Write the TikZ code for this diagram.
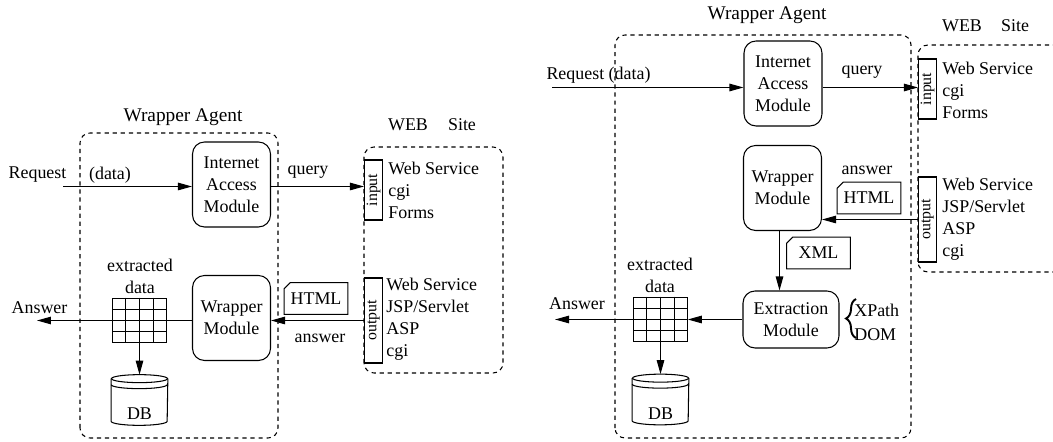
\documentclass[tikz,border=0pt]{standalone}
\usepackage{fontspec}
\setmainfont{Liberation Serif}
\usetikzlibrary{arrows.meta,shapes,positioning,calc,decorations.pathreplacing}

\tikzset{
  txt/.style={font=\fontsize{10.2}{12.5}\selectfont, inner sep=0pt},
  ttl/.style={font=\fontsize{11}{13}\selectfont, inner sep=0pt},
  module/.style={draw, line width=0.6pt, rounded corners=0.24cm, align=center, txt, inner sep=1pt, minimum width=1.56cm, minimum height=1.7cm},
  frame/.style={line width=0.6pt, dash pattern=on 2.4pt off 2.2pt, rounded corners=0.2cm},
  port/.style={draw, line width=0.6pt, minimum width=0.36cm, inner sep=0pt, font=\fontsize{9}{10}\selectfont},
  doc/.style={txt, minimum width=1.26cm, minimum height=0.62cm},
  table/.style={draw, line width=0.6pt, inner sep=0pt, minimum width=1.07cm, minimum height=0.89cm},
  dbnode/.style={txt, minimum width=1.12cm, minimum height=1cm, text height=0.9cm, text depth=0.1cm},
  arr/.style={line width=0.6pt, -{Triangle[length=0.28cm,width=0.15cm]}},
  line/.style={line width=0.6pt}
}

\begin{document}
\begin{tikzpicture}[x=0.02cm, y=0.02cm]
        \useasboundingbox (0,0) rectangle (1053,442);
        \clip (0,0) rectangle (1053,442);

        % Left picture: wrapper agent
        \node[ttl] (agentA) at (183,325) {Wrapper Agent};
        \draw[frame] (80,4) rectangle (278,309);
        \node[module] (iamA) at (231.5,257.5) {Internet\\Access\\Module};
        \node[module] (wmA) at (231.5,124) {Wrapper\\Module};
        \node[txt] (reqA) at (37.5,267) {Request};
        \node[txt] (dataA) at (110,267) {(data)};
        \coordinate (inA) at (63,255.5);

        % Left picture: web site
        \node[txt] (webA) at (408,317) {WEB};
        \node[txt] (siteA) at (462,317) {Site};
        \draw[frame] (364,69) rectangle (503,295);
        \node[port, minimum height=1.2cm] (inputA) at (373.5,252) {\rotatebox{90}{input}};
        \node[txt, align=left, anchor=west] (inlistA) at (388,252) {Web Service\\cgi\\Forms};
        \node[port, minimum height=1.7cm] (outputA) at (373.5,121.5) {\rotatebox{90}{output}};
        \node[txt, align=left, anchor=west] (outlistA) at (386,123) {Web Service\\JSP/Servlet\\ASP\\cgi};

        % Left picture: data flow
        \draw[arr] (inA) -- (inA -| iamA.west);
        \draw[arr] (inA -| iamA.east) -- (inA -| inputA.west);
        \node[txt] (queryA) at (308,270) {query};
        \draw[arr] (outputA.west) -- (outputA.west -| wmA.east);
        \node[txt] (answerA) at (320,104) {answer};
        \node[doc] (htmlA) at (316,143.5) {HTML};
        \node[table] (tblA) at (139.5,121.5) {};
        \node[txt, align=center] (extA) at (140,166) {extracted\\data};
        \draw[line] (tblA.east -| wmA.west) -- (tblA.east);
        \coordinate (outA) at (37,121.5);
        \draw[arr] (tblA.west) -- (outA);
        \node[txt] (ansA) at (39.5,134) {Answer};
        \node[dbnode] (dbA) at (139.5,42) {DB};
        \draw[arr] (tblA.south) -- (dbA.north);

        % Right picture: wrapper agent
        \node[ttl] (agentB) at (767,427) {Wrapper Agent};
        \draw[frame] (615,4) rectangle (911,407);
        \node[module] (iamB) at (783,358.5) {Internet\\Access\\Module};
        \node[module] (wmB) at (782.5,254) {Wrapper\\Module};
        \node[module, minimum width=1.92cm, minimum height=1.14cm] (emB) at (791,122.5) {Extraction\\Module};
        \node[txt] (reqB) at (598.5,367) {Request (data)};
        \coordinate (inB) at (552,354.5);

        % Right picture: web site
        \node[txt] (webB) at (962,416) {WEB};
        \node[txt] (siteB) at (1015,416) {Site};
        \draw[frame] (918,170) rectangle (1075,397);
        \node[port, minimum height=1.2cm] (inputB) at (927.5,353) {\rotatebox{90}{input}};
        \node[txt, align=left, anchor=west] (inlistB) at (942,352) {Web Service\\cgi\\Forms};
        \node[port, minimum height=1.7cm] (outputB) at (927.5,222.5) {\rotatebox{90}{output}};
        \node[txt, align=left, anchor=west] (outlistB) at (942,223) {Web Service\\JSP/Servlet\\ASP\\cgi};

        % Right picture: data flow
        \draw[arr] (inB) -- (inB -| iamB.west);
        \draw[arr] (inB -| iamB.east) -- (inB -| inputB.west);
        \node[txt] (queryB) at (862,370) {query};
        \draw[arr] (outputB.west) -- (outputB.west -| wmB.east);
        \node[txt] (answerB) at (867,272) {answer};
        \node[doc] (htmlB) at (869,244) {HTML};
        \coordinate (xmlx) at (779.5,0);
        \draw[arr] (wmB.south -| xmlx) -- (emB.north -| xmlx);
        \node[doc] (xmlB) at (818.5,189) {XML};
        \draw[line width=1.1pt, decorate, decoration={brace, amplitude=0.2cm}] (856,104) -- (856,143);
        \node[txt, anchor=west] (xpathB) at (854,132) {XPath};
        \node[txt, anchor=west] (domB) at (854,107) {DOM};
        \node[table] (tblB) at (660.5,122.5) {};
        \node[txt, align=center] (extB) at (660,167) {extracted\\data};
        \draw[arr] (emB.west) -- (tblB.east);
        \coordinate (outB) at (555,122.5);
        \draw[arr] (tblB.west) -- (outB);
        \node[txt] (ansB) at (577,138) {Answer};
        \node[dbnode] (dbB) at (660.5,42.5) {DB};
        \draw[arr] (tblB.south) -- (dbB.north);

        % Draw documents
        \foreach \d in {htmlA, htmlB, xmlB}
            \draw[line] ($(\d.north west)+(0,-6)$) -- ($(\d.north west)+(6,0)$) -- (\d.north east) -- (\d.south east) -- (\d.south west) -- cycle;

        % Draw table cells
        \foreach \t in {tblA, tblB}
            \foreach \i in {1,2,3} {
                \draw[line] ($(\t.north west)!\i/4!(\t.north east)$) -- ($(\t.south west)!\i/4!(\t.south east)$);
                \draw[line] ($(\t.north west)!\i/4!(\t.south west)$) -- ($(\t.north east)!\i/4!(\t.south east)$);
            }

        % Draw databases
        \foreach \b in {dbA, dbB} {
            \draw[line] ($(\b.north west)+(0,-4)$) -- ($(\b.south west)+(0,4)$) arc[start angle=180, end angle=360, x radius=0.56cm, y radius=0.08cm] -- ($(\b.north east)+(0,-4)$);
            \draw[line] ($(\b.north)+(0,-4)$) ellipse[x radius=0.56cm, y radius=0.08cm];
            \draw[line] ($(\b.north west)+(0,-10)$) arc[start angle=180, end angle=360, x radius=0.56cm, y radius=0.08cm];
        }
      \end{tikzpicture}
\end{document}
